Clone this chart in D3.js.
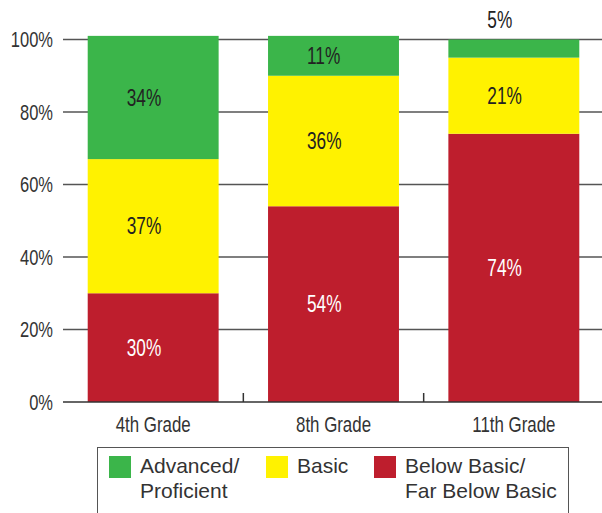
<!DOCTYPE html>
<html>
<head>
<meta charset="utf-8">
<script src="https://cdn.jsdelivr.net/npm/d3@7"></script>
<style>
  html, body { margin: 0; padding: 0; background: #fff; }
  svg { display: block; }
  text { font-family: "Liberation Sans", Arial, "Noto Sans", sans-serif; }
</style>
</head>
<body>
<svg id="chart" width="602" height="513"></svg>
<script>
// Grade levels shown along the x axis
const grades = ["4th Grade", "8th Grade", "11th Grade"];

// Share of students (%) in each performance band, per grade
const belowBasic = [30, 54, 74];
const basic = [37, 36, 21];
const advanced = [34, 11, 5];

// Y axis ticks (%)
const yTicks = [0, 20, 40, 60, 80, 100];

// Legend / series names
const seriesNames = ["Advanced/\nProficient", "Basic", "Below Basic/\nFar Below Basic"];

const colors = { below: "#be1e2d", basic: "#fff200", adv: "#3bb54a" };
const NARROW = 0.75; // horizontal squeeze for the condensed axis/value type

const svg = d3.select("#chart");
const plot = { left: 63, right: 604, top: 39.5, bottom: 402 };

const x = d3.scaleBand()
  .domain(grades)
  .range([plot.left, plot.right])
  .paddingInner(0.274)
  .paddingOuter(0.137);

const y = d3.scaleLinear()
  .domain([0, 100])
  .range([plot.bottom, plot.top]);

// Condensed text: positioned group, squeezed text inside
function narrowText(parent, px, py, str, opts) {
  const g = parent.append("g").attr("transform", `translate(${px},${py})`);
  return g.append("text")
    .attr("transform", `scale(${NARROW},1)`)
    .attr("text-anchor", opts.anchor || "middle")
    .attr("dy", opts.dy || 0)
    .attr("font-size", opts.size || 20)
    .attr("fill", opts.fill || "#333")
    .text(str);
}

// Horizontal gridlines (drawn behind bars)
svg.append("g")
  .selectAll("line")
  .data(yTicks.filter(t => t > 0))
  .join("line")
  .attr("x1", plot.left).attr("x2", 602)
  .attr("y1", d => y(d)).attr("y2", d => y(d))
  .attr("stroke", "#555").attr("stroke-width", 1.3);

// Stacked data
const rows = grades.map((g, i) => ({ grade: g, below: belowBasic[i], basic: basic[i], adv: advanced[i] }));
const stack = d3.stack().keys(["below", "basic", "adv"])(rows);

svg.append("g")
  .selectAll("g")
  .data(stack)
  .join("g")
  .attr("fill", d => colors[d.key])
  .selectAll("rect")
  .data(d => d)
  .join("rect")
  .attr("x", d => x(d.data.grade))
  .attr("width", x.bandwidth())
  .attr("y", d => y(d[1]))
  .attr("height", d => y(d[0]) - y(d[1]));

// Value labels
const labelG = svg.append("g");
stack.forEach(layer => {
  layer.forEach(d => {
    const v = d[1] - d[0];
    const segH = y(d[0]) - y(d[1]);
    const above = segH < 30;
    const cy = above ? y(d[1]) - 20 : (y(d[0]) + y(d[1])) / 2;
    narrowText(labelG, x(d.data.grade) + 39, cy, v + "%", {
      anchor: "start", dy: "0.36em", size: 23,
      fill: layer.key === "below" && !above ? "#fff" : "#222"
    });
  });
});

// Y axis labels (no axis line)
const yLab = svg.append("g");
yTicks.forEach(t => {
  narrowText(yLab, plot.left - 10, y(t), t + "%", { anchor: "end", dy: "0.36em", size: 22, fill: "#333" });
});

// Baseline
svg.append("line")
  .attr("x1", plot.left).attr("x2", 602)
  .attr("y1", y(0)).attr("y2", y(0))
  .attr("stroke", "#333").attr("stroke-width", 1.6);

// X axis: separator ticks between grades and labels
const bounds = grades.slice(1).map(g => x(g) - x.step() * x.paddingInner() / 2);
svg.append("g")
  .selectAll("line")
  .data(bounds)
  .join("line")
  .attr("x1", d => d).attr("x2", d => d)
  .attr("y1", y(0) - 9).attr("y2", y(0))
  .attr("stroke", "#333").attr("stroke-width", 1.5);

const xLab = svg.append("g");
grades.forEach(g => {
  narrowText(xLab, x(g) + x.bandwidth() / 2, 432, g, { anchor: "middle", size: 22.5, fill: "#333" });
});

// Legend
const legend = svg.append("g");
legend.append("rect")
  .attr("x", 97.5).attr("y", 447.5)
  .attr("width", 471).attr("height", 70)
  .attr("fill", "none").attr("stroke", "#555").attr("stroke-width", 1);

const legendX = [109, 266, 374];
const legendColors = [colors.adv, colors.basic, colors.below];
seriesNames.forEach((name, i) => {
  legend.append("rect")
    .attr("x", legendX[i]).attr("y", 456)
    .attr("width", 22).attr("height", 22)
    .attr("fill", legendColors[i]);
  const t = legend.append("text")
    .attr("x", legendX[i] + 31)
    .attr("y", 473)
    .attr("font-size", 21)
    .attr("fill", "#333");
  name.split("\n").forEach((line, j) => {
    t.append("tspan").attr("x", legendX[i] + 31).attr("dy", j === 0 ? 0 : 25).text(line);
  });
});
</script>
</body>
</html>
